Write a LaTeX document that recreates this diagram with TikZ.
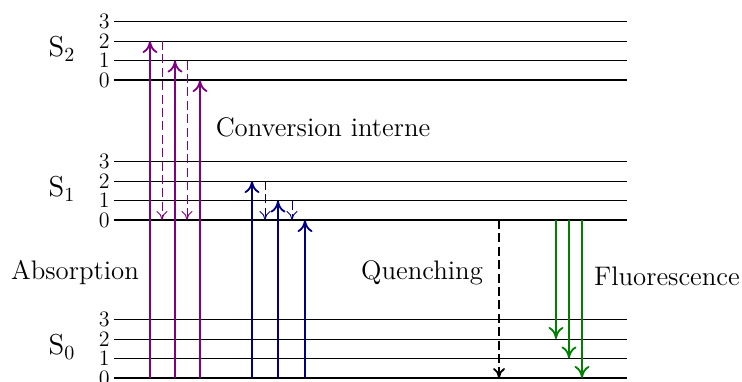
\documentclass[tikz,border=0pt]{standalone}
\usetikzlibrary{arrows.meta}
\definecolor{absviolet}{RGB}{128,0,128}
\definecolor{absblue}{RGB}{0,0,128}
\definecolor{fluogreen}{RGB}{0,128,0}
\tikzset{
	level/.style={line width=0.5pt},
	ground/.style={line width=1.4pt},
	num/.style={left,inner sep=2pt,font=\fontsize{11}{13}\selectfont},
	state/.style={font=\fontsize{14.4}{16}\selectfont},
	lbl/.style={font=\fontsize{13.4}{15}\selectfont},
	up/.style={-{To[length=6pt,width=7.5pt]},line width=0.9pt},
	relax/.style={-{To[length=4.5pt,width=5.5pt]},dash pattern=on 4.5pt off 2.2pt,line width=0.45pt},
}
\begin{document}
\begin{tikzpicture}[x=0.5pt,y=0.5pt]
	\useasboundingbox (0,-3) rectangle (742,378);
	% niveaux
	\foreach \s/\base in {0/0,1/158,2/298}{
		\foreach \v in {0,...,3}{
			\coordinate (s\s-\v) at (114,\base+19.5*\v);
			\draw[level] (s\s-\v) -- ++(513,0);
			\node[num] (n\s-\v) at (s\s-\v) {\v};
		}
		\draw[ground] (s\s-0) -- ++(513,0);
		\node[state] (S\s) at (62,\base+31) {S$_\s$};
	}
	% abscisses des fleches
	\foreach \n/\x in {a/150,b/175,c/200,d/162,e/187,f/252,g/278,h/305,i/265,j/292,q/499,k/556,l/569,m/582}
		\coordinate (x\n) at (\x,0);
	% absorption
	\draw[up,absviolet] (xa) -- (xa |- s2-2);
	\draw[up,absviolet] (xb) -- (xb |- s2-1);
	\draw[up,absviolet] (xc) -- (xc |- s2-0);
	\draw[up,absblue] (xf) -- (xf |- s1-2);
	\draw[up,absblue] (xg) -- (xg |- s1-1);
	\draw[up,absblue] (xh) -- (xh |- s1-0);
	% conversion interne
	\draw[relax,absviolet] (xd |- s2-2) -- (xd |- s1-0);
	\draw[relax,absviolet] (xe |- s2-1) -- (xe |- s1-0);
	\draw[relax,absblue] (xi |- s1-2) -- (xi |- s1-0);
	\draw[relax,absblue] (xj |- s1-1) -- (xj |- s1-0);
	% quenching
	\draw[-{To[length=5pt,width=6pt]},dash pattern=on 4.5pt off 2.2pt,line width=0.9pt] (xq |- s1-0) -- (xq);
	% fluorescence
	\draw[up,fluogreen] (xk |- s1-0) -- (xk |- s0-2);
	\draw[up,fluogreen] (xl |- s1-0) -- (xl |- s0-1);
	\draw[up,fluogreen] (xm |- s1-0) -- (xm);
	% textes
	\node[lbl] (conv) at (323,251) {Conversion interne};
	\node[lbl] (abs) at (75,105) {Absorption};
	\node[lbl] (quench) at (422,105) {Quenching};
	\node[lbl] (fluo) at (667,102) {Fluorescence};
\end{tikzpicture}
\end{document}
